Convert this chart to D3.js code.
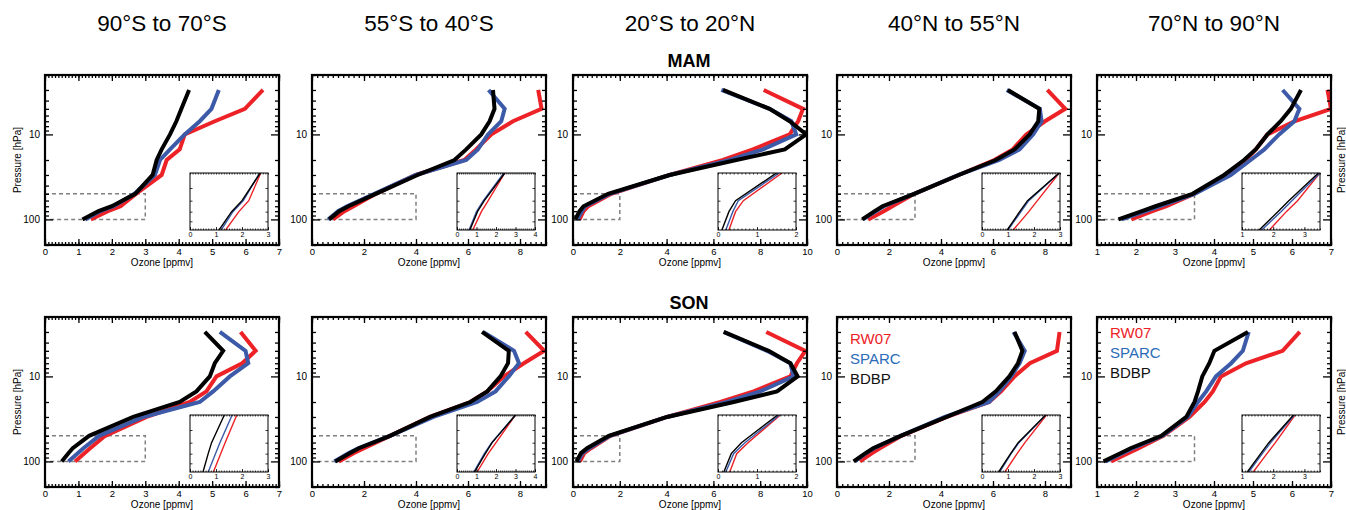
<!DOCTYPE html>
<html>
<head>
<meta charset="utf-8">
<script src="https://cdn.jsdelivr.net/npm/d3@7"></script>
<style>
  body { margin: 0; background: #fff; }
  svg { font-family: "Liberation Sans", Arial, sans-serif; }
</style>
</head>
<body>
<svg id="chart" width="1346" height="510"></svg>
<script>
// pressure levels (hPa), same for every profile
const levels = [100, 80, 70, 50, 30, 20, 15, 10, 7, 5, 3];

const regions = ["90°S to 70°S", "55°S to 40°S", "20°S to 20°N", "40°N to 55°N", "70°N to 90°N"];
const seasons = ["MAM", "SON"];
const sources = ["RW07", "SPARC", "BDBP"];

const xDomains = [[0, 7], [0, 9], [0, 10], [0, 9], [1, 7]];
const xTickSteps = [1, 2, 2, 2, 1];
const insetDomains = [[0, 3], [0, 4], [0, 2], [0, 3], [1, 3.5]];
const yTickLabels = [10, 100];

// ozone (ppmv) per region, one row per region, values at `levels`
const rw07MAM = [
  [1.37, 1.88, 2.26, 2.72, 3.49, 3.64, 4.03, 4.18, 5.08, 5.98, 6.52],
  [0.81, 1.25, 1.6, 2.45, 3.99, 5.86, 6.31, 6.9, 7.73, 8.83, 8.7],
  [0.28, 0.45, 0.65, 1.64, 4.13, 6.41, 7.69, 9.26, 9.62, 9.83, 8.15],
  [1.2, 1.8, 2.13, 2.97, 4.68, 6.05, 6.76, 7.28, 8.0, 8.78, 8.09],
  [1.88, 2.42, 2.78, 3.5, 4.34, 4.81, 5.07, 5.37, 6.06, 7.0, 6.91]
];
const sparcMAM = [
  [1.2, 1.65, 2.05, 2.68, 3.29, 3.44, 3.74, 4.18, 4.63, 4.98, 5.2],
  [0.62, 1.0, 1.35, 2.4, 3.99, 5.93, 6.38, 6.77, 7.28, 7.41, 6.79],
  [0.2, 0.38, 0.52, 1.57, 4.13, 6.7, 8.12, 9.54, 9.33, 8.4, 6.34],
  [1.0, 1.5, 1.8, 2.97, 4.68, 6.24, 7.02, 7.54, 7.87, 7.8, 6.53],
  [1.63, 2.25, 2.6, 3.5, 4.43, 4.94, 5.29, 5.67, 6.06, 6.19, 5.76]
];
const bdbpMAM = [
  [1.12, 1.6, 2.0, 2.7, 3.22, 3.34, 3.49, 3.74, 3.93, 4.08, 4.31],
  [0.66, 1.05, 1.4, 2.45, 4.06, 5.48, 5.93, 6.51, 6.83, 7.02, 6.96],
  [0.1, 0.28, 0.45, 1.5, 4.13, 6.98, 9.05, 9.97, 9.26, 8.4, 6.41],
  [0.97, 1.45, 1.75, 2.97, 4.68, 6.11, 6.83, 7.41, 7.74, 7.78, 6.57],
  [1.55, 2.15, 2.5, 3.45, 4.26, 4.77, 5.07, 5.37, 5.71, 5.97, 6.23]
];
const rw07SON = [
  [0.9, 1.18, 1.35, 1.8, 3.04, 4.33, 4.83, 5.13, 5.9, 6.3, 5.85],
  [1.03, 1.6, 2.0, 3.0, 4.54, 6.09, 6.74, 7.38, 8.15, 8.93, 8.22],
  [0.3, 0.48, 0.77, 1.6, 4.02, 6.3, 7.72, 9.29, 9.57, 9.93, 8.26],
  [0.88, 1.35, 1.65, 2.48, 4.22, 5.85, 6.31, 6.83, 7.42, 8.46, 8.56],
  [1.36, 1.8, 2.07, 2.7, 3.37, 3.76, 3.97, 4.18, 4.82, 5.76, 6.2]
];
const sparcSON = [
  [0.7, 0.98, 1.15, 1.62, 2.94, 4.63, 5.03, 5.53, 6.08, 6.0, 5.23],
  [0.86, 1.4, 1.78, 3.0, 4.67, 6.35, 7.06, 7.57, 7.96, 7.77, 6.58],
  [0.2, 0.4, 0.69, 1.58, 4.02, 6.58, 8.0, 9.43, 9.29, 8.29, 6.44],
  [0.68, 1.12, 1.42, 2.45, 4.15, 5.85, 6.24, 6.7, 7.02, 7.22, 6.79],
  [1.22, 1.65, 1.92, 2.68, 3.33, 3.59, 3.8, 4.05, 4.44, 4.74, 4.89]
];
const bdbpSON = [
  [0.5, 0.7, 0.83, 1.32, 2.64, 4.03, 4.53, 4.93, 5.08, 5.33, 4.78],
  [0.9, 1.45, 1.8, 3.0, 4.54, 6.09, 6.74, 7.25, 7.54, 7.57, 6.54],
  [0.15, 0.34, 0.6, 1.53, 4.02, 6.87, 8.72, 9.6, 9.29, 8.36, 6.44],
  [0.64, 1.1, 1.39, 2.45, 4.22, 5.59, 6.11, 6.63, 6.96, 7.13, 6.83],
  [1.17, 1.6, 1.86, 2.65, 3.29, 3.5, 3.59, 3.7, 3.88, 4.01, 4.87]
];

const seasonData = {
  MAM: { RW07: rw07MAM, SPARC: sparcMAM, BDBP: bdbpMAM },
  SON: { RW07: rw07SON, SPARC: sparcSON, BDBP: bdbpSON }
};
const colors = { RW07: "#ec2227", SPARC: "#3c5aa8", BDBP: "#000000" };
const legendColors = { RW07: "#ec2227", SPARC: "#2b6cb8", BDBP: "#111111" };

// layout
const frameLefts = [45, 312, 573, 837, 1097];
const rowTops = [75, 317];
const W = 234, H = 170;
const insetW = 78, insetH = 57;

const svg = d3.select("#chart");
let clipId = 0;

// column titles
regions.forEach(function (r, c) {
  svg.append("text")
    .attr("x", frameLefts[c] + W / 2)
    .attr("y", 31)
    .attr("text-anchor", "middle")
    .style("font-size", "22.5px")
    .text(r);
});

// season labels
seasons.forEach(function (s, row) {
  svg.append("text")
    .attr("x", 689)
    .attr("y", rowTops[row] - 8)
    .attr("text-anchor", "middle")
    .style("font-size", "18px")
    .style("font-weight", "bold")
    .text(s);
});

function drawPanel(row, col) {
  const season = seasons[row];
  const g = svg.append("g")
    .attr("transform", "translate(" + frameLefts[col] + "," + rowTops[row] + ")");

  const x = d3.scaleLinear().domain(xDomains[col]).range([0, W]);
  const y = d3.scaleLog().domain([200, 2]).range([H, 0]);

  const cid = "clip" + (clipId++);
  g.append("clipPath").attr("id", cid)
    .append("rect").attr("width", W).attr("height", H);

  // dashed box showing the inset area
  const ins = insetDomains[col];
  g.append("rect")
    .attr("x", x(ins[0]))
    .attr("y", y(50))
    .attr("width", x(ins[1]) - x(ins[0]))
    .attr("height", y(100) - y(50))
    .attr("fill", "none")
    .attr("stroke", "#808080")
    .attr("stroke-width", 1.5)
    .attr("stroke-dasharray", "4,3");

  const line = d3.line()
    .x(d => x(d[1]))
    .y(d => y(d[0]));

  const lines = g.append("g").attr("clip-path", "url(#" + cid + ")");
  sources.forEach(function (s) {
    const vals = seasonData[season][s][col];
    lines.append("path")
      .datum(levels.map((p, i) => [p, vals[i]]))
      .attr("d", line)
      .attr("fill", "none")
      .attr("stroke", colors[s])
      .attr("stroke-width", 4);
  });

  // ticks
  const step = xTickSteps[col];
  const dom = xDomains[col];
  const major = d3.range(Math.ceil(dom[0] / step) * step, dom[1] + 1e-9, step);
  const minor = d3.range(dom[0], dom[1] + 1e-9, step / 10);
  const yVals = y.ticks();
  const yMajor = yVals.filter(v => Math.abs(Math.log10(v) - Math.round(Math.log10(v))) < 1e-6);
  const yMinor = yVals.filter(v => yMajor.indexOf(v) < 0);

  function tickAxis(axis, sel) {
    sel.call(axis);
    sel.select(".domain").remove();
    sel.selectAll("line").attr("stroke", "#000").attr("stroke-width", 1.3);
  }

  tickAxis(d3.axisBottom(x).tickValues(minor).tickSize(-3).tickFormat(""),
    g.append("g").attr("transform", "translate(0," + H + ")"));
  tickAxis(d3.axisTop(x).tickValues(minor).tickSize(-3).tickFormat(""), g.append("g"));
  tickAxis(d3.axisTop(x).tickValues(major).tickSize(-6).tickFormat(""), g.append("g"));

  const xLab = g.append("g").attr("transform", "translate(0," + H + ")");
  tickAxis(d3.axisBottom(x).tickValues(major).tickSize(-6).tickPadding(3).tickFormat(d3.format("d")), xLab);
  xLab.selectAll("text").style("font-size", "9.5px").attr("fill", "#000");

  tickAxis(d3.axisLeft(y).tickValues(yMinor).tickSize(-4).tickFormat(""), g.append("g"));
  tickAxis(d3.axisRight(y).tickValues(yMinor).tickSize(-4).tickFormat(""),
    g.append("g").attr("transform", "translate(" + W + ",0)"));
  tickAxis(d3.axisRight(y).tickValues(yMajor).tickSize(-8).tickFormat(""),
    g.append("g").attr("transform", "translate(" + W + ",0)"));
  const yLab = g.append("g");
  tickAxis(d3.axisLeft(y).tickValues(yTickLabels).tickSize(-8).tickPadding(5).tickFormat(d3.format("d")), yLab);
  yLab.selectAll("text").style("font-size", "10px").attr("fill", "#000");

  // frame
  g.append("rect")
    .attr("width", W).attr("height", H)
    .attr("fill", "none").attr("stroke", "#000").attr("stroke-width", 2.2);

  g.append("text")
    .attr("x", W / 2).attr("y", H + 21)
    .attr("text-anchor", "middle")
    .style("font-size", "10px")
    .text("Ozone [ppmv]");

  if (col === 0) {
    g.append("text")
      .attr("transform", "translate(-24," + (H / 2) + ") rotate(-90)")
      .attr("text-anchor", "middle")
      .style("font-size", "10px")
      .text("Pressure [hPa]");
  }
  if (col === 4) {
    // sits at the very right edge, as in the original figure
    g.append("text")
      .attr("transform", "translate(" + (W + 14) + "," + (H / 2) + ") rotate(-90)")
      .attr("text-anchor", "middle")
      .style("font-size", "10px")
      .text("Pressure [hPa]");
  }

  // legend in the SON panels of the northern columns
  if (row === 1 && col >= 3) {
    const ly = col === 3 ? 27 : 21;
    sources.forEach(function (s, i) {
      g.append("text")
        .attr("x", 13)
        .attr("y", ly + i * 20)
        .style("font-size", "15px")
        .attr("fill", legendColors[s])
        .text(s);
    });
  }

  drawInset(g, row, col);
}

function drawInset(g, row, col) {
  const season = seasons[row];
  const ig = g.append("g")
    .attr("transform", "translate(" + (W - 11 - insetW) + "," + 98 + ")");

  const dom = insetDomains[col];
  const xi = d3.scaleLinear().domain(dom).range([0, insetW]);
  const yi = d3.scaleLog().domain([100, 50]).range([insetH, 0]);

  ig.append("rect").attr("width", insetW).attr("height", insetH).attr("fill", "#fff");

  const cid = "clip" + (clipId++);
  ig.append("clipPath").attr("id", cid)
    .append("rect").attr("width", insetW).attr("height", insetH);

  const line = d3.line()
    .x(d => xi(d[1]))
    .y(d => yi(d[0]));

  const lines = ig.append("g").attr("clip-path", "url(#" + cid + ")");
  sources.forEach(function (s) {
    const vals = seasonData[season][s][col];
    const pts = levels.map((p, i) => [p, vals[i]]).filter(d => d[0] >= 50);
    lines.append("path")
      .datum(pts)
      .attr("d", line)
      .attr("fill", "none")
      .attr("stroke", colors[s])
      .attr("stroke-width", 1.4);
  });

  const major = d3.range(Math.ceil(dom[0]), dom[1] + 1e-9, 1);
  const minor = d3.range(dom[0], dom[1] + 1e-9, 0.1);
  const yMinor = [60, 70, 80, 90];

  function tickAxis(axis, sel) {
    sel.call(axis);
    sel.select(".domain").remove();
    sel.selectAll("line").attr("stroke", "#000").attr("stroke-width", 0.8);
  }
  tickAxis(d3.axisTop(xi).tickValues(minor).tickSize(-1.5).tickFormat(""), ig.append("g"));
  tickAxis(d3.axisBottom(xi).tickValues(minor).tickSize(-1.5).tickFormat(""),
    ig.append("g").attr("transform", "translate(0," + insetH + ")"));
  const lab = ig.append("g").attr("transform", "translate(0," + insetH + ")");
  tickAxis(d3.axisBottom(xi).tickValues(major).tickSize(-3).tickPadding(2).tickFormat(d3.format("d")), lab);
  lab.selectAll("text").style("font-size", "7px").attr("fill", "#000");
  tickAxis(d3.axisLeft(yi).tickValues(yMinor).tickSize(-2.5).tickFormat(""), ig.append("g"));
  tickAxis(d3.axisRight(yi).tickValues(yMinor).tickSize(-2.5).tickFormat(""),
    ig.append("g").attr("transform", "translate(" + insetW + ",0)"));

  ig.append("rect")
    .attr("width", insetW).attr("height", insetH)
    .attr("fill", "none").attr("stroke", "#000").attr("stroke-width", 1);
}

for (let row = 0; row < 2; row++) {
  for (let col = 0; col < 5; col++) {
    drawPanel(row, col);
  }
}
</script>
</body>
</html>
